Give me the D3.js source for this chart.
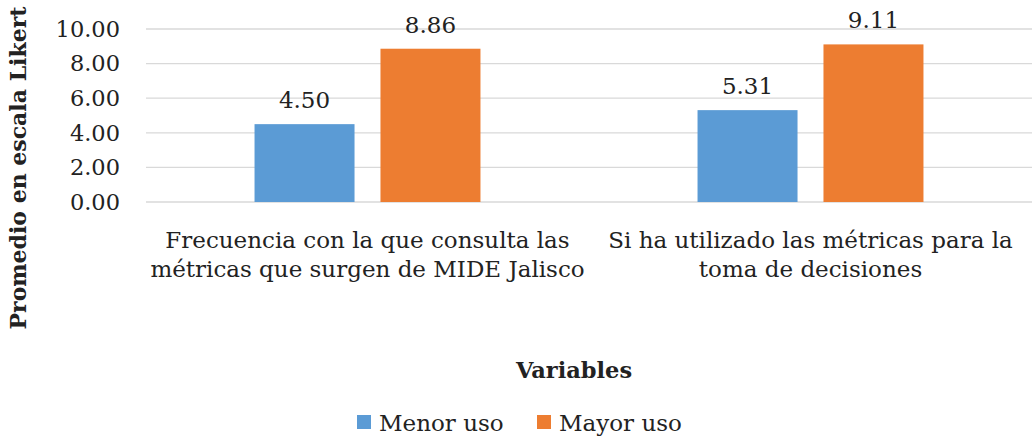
<!DOCTYPE html>
<html>
<head>
<meta charset="utf-8">
<script src="https://cdn.jsdelivr.net/npm/d3@7"></script>
<style>
  body { margin: 0; background: #fff; }
  text { font-family: "DejaVu Serif", serif; fill: #222; }
</style>
</head>
<body>
<div id="chart"></div>
<script>
// data
var categories = [
  ["Frecuencia con la que consulta las", "métricas que surgen de MIDE Jalisco"],
  ["Si ha utilizado las métricas para la", "toma de decisiones"]
];
var seriesNames = ["Menor uso", "Mayor uso"];
var menorUso = [4.50, 5.31];
var mayorUso = [8.86, 9.11];
var yTicks = [0, 2, 4, 6, 8, 10];
var colors = ["#5b9bd5", "#ed7d31"];

var svgWidth = 1034;
var svgHeight = 437;

var margin = { top: 29, right: 2, bottom: 235, left: 146 };
var width = svgWidth - margin.left - margin.right;
var height = svgHeight - margin.top - margin.bottom;

var svg = d3.select("#chart")
  .append("svg")
  .attr("width", svgWidth)
  .attr("height", svgHeight);

var chartGroup = svg.append("g")
  .attr("transform", `translate(${margin.left}, ${margin.top})`);

var x0 = d3.scaleBand()
  .domain(d3.range(categories.length))
  .range([0, width])
  .padding(0);

// bars take the middle part of each category
var x1 = d3.scaleBand()
  .domain(d3.range(seriesNames.length))
  .range([x0.bandwidth() * 0.245, x0.bandwidth() * 0.755])
  .paddingInner(0.206);

var y = d3.scaleLinear()
  .domain([0, 10])
  .range([height, 0]);

// gridlines
chartGroup.append("g")
  .selectAll("line")
  .data(yTicks)
  .enter()
  .append("line")
  .attr("x1", 0)
  .attr("x2", width)
  .attr("y1", d => y(d))
  .attr("y2", d => y(d))
  .attr("stroke", "#d9d9d9")
  .attr("stroke-width", 1.3);

// y axis labels
var leftAxis = d3.axisLeft(y)
  .tickValues(yTicks)
  .tickFormat(d3.format(".2f"))
  .tickSize(0)
  .tickPadding(26);

var yAxis = chartGroup.append("g").call(leftAxis);
yAxis.select(".domain").remove();
yAxis.selectAll("text")
  .style("font-family", "DejaVu Serif, serif")
  .style("font-size", "22.5px")
  .attr("fill", "#222");

var table = categories.map((c, i) => [menorUso[i], mayorUso[i]]);

var groups = chartGroup.selectAll(".cat")
  .data(table)
  .enter()
  .append("g")
  .attr("transform", (d, i) => `translate(${x0(i)}, 0)`);

groups.selectAll("rect")
  .data(d => d)
  .enter()
  .append("rect")
  .attr("x", (d, j) => x1(j))
  .attr("y", d => y(d))
  .attr("width", x1.bandwidth())
  .attr("height", d => height - y(d))
  .attr("fill", (d, j) => colors[j]);

groups.selectAll(".val")
  .data(d => d)
  .enter()
  .append("text")
  .attr("x", (d, j) => x1(j) + x1.bandwidth() / 2)
  .attr("y", d => y(d) - 16)
  .attr("text-anchor", "middle")
  .style("font-size", "23px")
  .text(d => d3.format(".2f")(d));

// category labels
groups.each(function(d, i) {
  var t = d3.select(this).append("text")
    .attr("text-anchor", "middle")
    .style("font-size", "23px");
  categories[i].forEach(function(line, k) {
    t.append("tspan")
      .attr("x", x0.bandwidth() / 2)
      .attr("y", height + 46 + k * 29)
      .text(line);
  });
});

// axis titles
svg.append("text")
  .attr("x", 574)
  .attr("y", 378)
  .attr("text-anchor", "middle")
  .style("font-size", "22.5px")
  .style("font-weight", "bold")
  .text("Variables");

svg.append("text")
  .attr("transform", "rotate(-90)")
  .attr("x", -168)
  .attr("y", 26)
  .attr("text-anchor", "middle")
  .style("font-size", "22px")
  .style("font-weight", "bold")
  .text("Promedio en escala Likert");

// legend
var legend = svg.append("g")
  .attr("transform", "translate(357, 415)");

var legendX = [0, 180];
seriesNames.forEach(function(name, j) {
  var g = legend.append("g").attr("transform", `translate(${legendX[j]}, 0)`);
  g.append("rect")
    .attr("x", 0)
    .attr("y", 0)
    .attr("width", 14)
    .attr("height", 14)
    .attr("fill", colors[j]);
  g.append("text")
    .attr("x", 22)
    .attr("y", 16)
    .style("font-size", "23px")
    .text(name);
});
</script>
</body>
</html>
